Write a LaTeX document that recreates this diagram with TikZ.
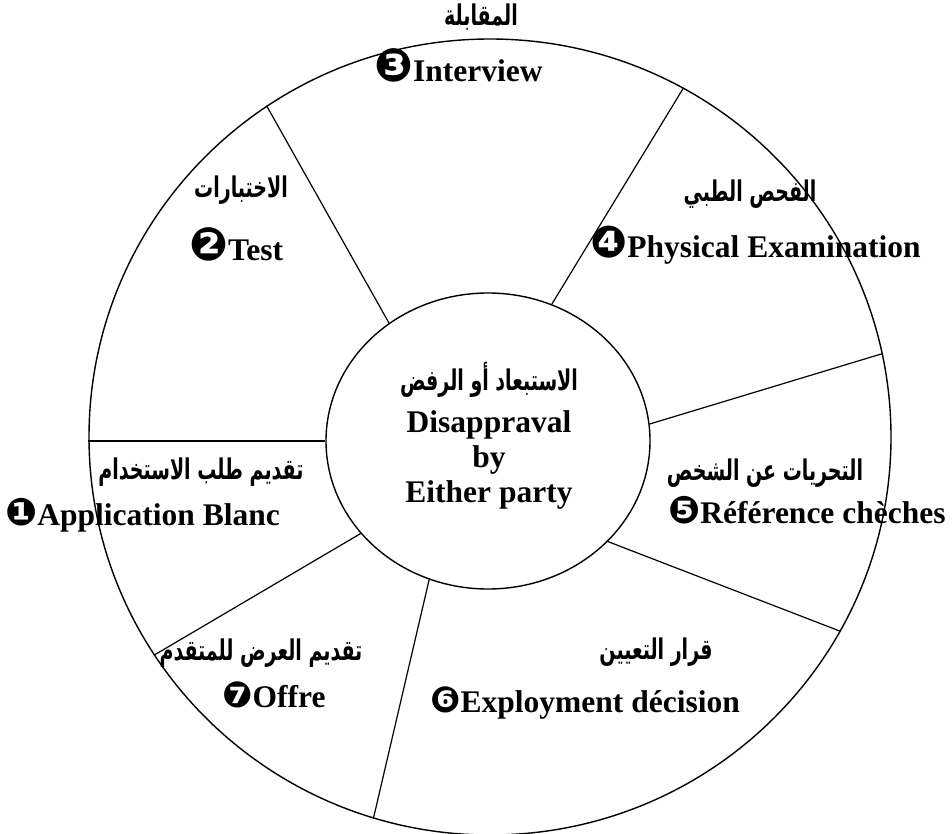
\documentclass[tikz,border=0pt]{standalone}
\usepackage{fontspec}
\usetikzlibrary{shapes.geometric}
\setmainfont{Liberation Serif}
\newfontfamily\arabicfont[Script=Arabic]{DejaVu Sans}
\newfontfamily\dingfont{DejaVu Sans}
\TeXXeTstate=1
% black circled step number at a given size
\newcommand\stepno[2]{{\dingfont\fontsize{#1}{#1}\selectfont #2}}
% Arabic caption, stretched a little upward
\newcommand\arcap[1]{\scalebox{1}[1.5]{\beginR #1\endR}}

\begin{document}
\begin{tikzpicture}[x=1pt,y=-1pt,
  ring/.style={draw, line width=1.4pt, ellipse, inner sep=0pt},
  spoke/.style={line width=1.2pt},
  en/.style={font=\fontsize{31.5}{36}\selectfont\bfseries, inner sep=0pt},
  ar/.style={font=\fontsize{19}{24}\selectfont\arabicfont\bfseries, inner sep=0pt}]
\useasboundingbox (0,0) rectangle (952,834);

% outer wheel and central hub
\node[ring, minimum width=802pt, minimum height=796pt] (outer) at (490,437) {};
\node[ring, minimum width=324pt, minimum height=296pt] (inner) at (488,441) {};

% spokes between hub and rim
\draw[spoke] (inner.west)  -- (inner.west -| outer.west);
\draw[spoke] (inner.130.7) -- (outer.124.7);
\draw[spoke] (inner.65.2)  -- (outer.61.6);
\draw[spoke] (inner.6.8)   -- (outer.12);
\draw[spoke] (inner.-40.9) -- (outer.-29.6);
\draw[spoke] (inner.-113)  -- (outer.-107);
\draw[spoke] (inner.-144)  -- (outer.-147.5);

% hub text
\node[ar] (hubar) at (489,380) {\arcap{الاستبعاد أو الرفض}};
\node[en, anchor=base] (hub1) at (489,432) {Disappraval};
\node[en, anchor=base] (hub2) at (489,467) {by};
\node[en, anchor=base] (hub3) at (489,502) {Either party};

% sector labels
\node[ar] (s3ar) at (481,17) {\arcap{المقابلة}};
\node[en, anchor=base west] (s3) at (374,82) {\stepno{46}{❸}Interview};

\node[ar] (s2ar) at (241,190) {\arcap{الاختبارات}};
\node[en, anchor=base west] (s2) at (189,260) {\stepno{46}{❷}Test};

\node[ar] (s4ar) at (750,194) {\arcap{الفحص الطبي}};
\node[en, anchor=base west] (s4) at (590,258) {\stepno{44}{❹}Physical Examination};

\node[ar] (s1ar) at (201,472) {\arcap{تقديم طلب الاستخدام}};
\node[en, anchor=base west] (s1) at (5,525) {\stepno{38}{❶}Application Blanc};

\node[ar] (s5ar) at (765,473) {\arcap{التحريات عن الشخص}};
\node[en, anchor=base west] (s5) at (668,523) {\stepno{38}{❺}Référence chèches};

\node[ar] (s7ar) at (261,653) {\arcap{تقديم العرض للمتقدم}};
\node[en, anchor=base west] (s7) at (222,707) {\stepno{36}{❼}Offre};

\node[ar] (s6ar) at (656,652) {\arcap{قرار التعيين}};
\node[en, anchor=base west] (s6) at (430,712) {\stepno{36}{❻}Exployment décision};
\end{tikzpicture}
\end{document}
